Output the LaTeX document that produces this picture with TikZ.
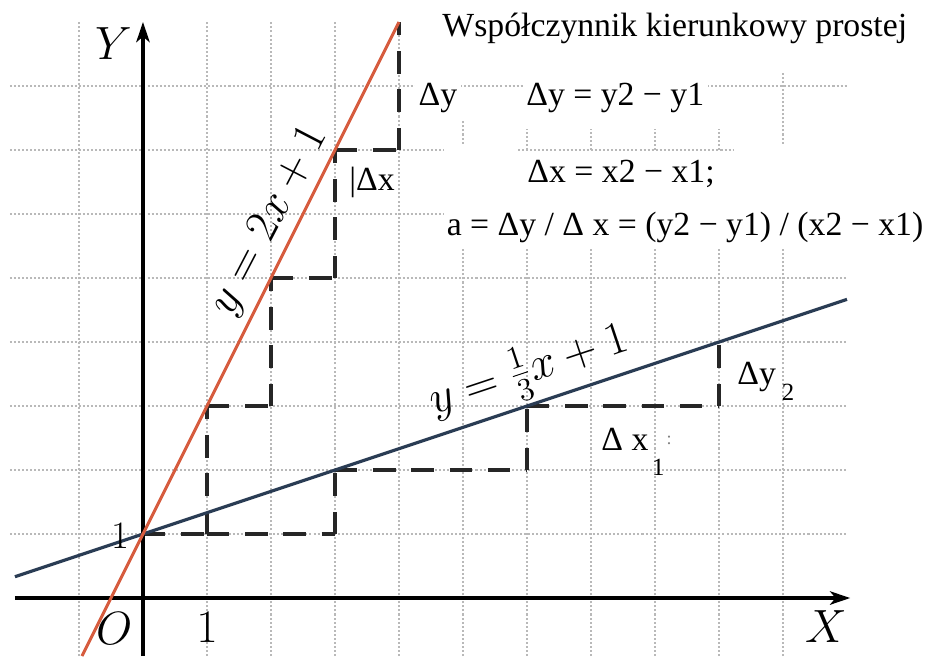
\documentclass[tikz,border=0pt]{standalone}
\usepackage{fontspec}
\newfontfamily\tnr{Liberation Serif}
\usetikzlibrary{arrows.meta}
\definecolor{redln}{RGB}{214,92,62}
\definecolor{blueln}{RGB}{42,60,84}
\begin{document}
\begin{tikzpicture}[x=1cm,y=1cm,
  gridline/.style={gray!55, line width=0.8pt, dash pattern=on 0.9pt off 0.9pt},
  stair/.style={black!85, line width=1.4pt, dash pattern=on 10pt off 7pt},
  axisln/.style={black, line width=1.4pt, -{Stealth[length=9pt,width=6pt,inset=2.5pt]}},
  redstyle/.style={redln, line width=1.3pt},
  bluestyle/.style={blueln, line width=1.4pt},
  txt/.style={font=\tnr\fontsize{15}{18}\selectfont, inner sep=1.5pt, anchor=base},
  subtxt/.style={font=\tnr\fontsize{11}{13}\selectfont, inner sep=0.5pt, anchor=base},
  mathlbl/.style={font=\fontsize{20}{24}\selectfont, inner sep=0pt, anchor=base},
]
\useasboundingbox (-2.234,-0.906) rectangle (12.297,9.344);
% grid
\foreach \x in {-1,1,2,...,10} \draw[gridline] (\x,-0.906) -- (\x,9.0);
\foreach \y in {1,...,8} \draw[gridline] (-2.08,\y) -- (11,\y);
% white area behind the text block
\fill[white] (4.7,5.47) rectangle (12.3,9.344);
% visible grid fragments in the text block
\draw[gridline] (4.7,8) -- (11,8);
\draw[gridline] (10,7.1) -- (10,8.2);
\draw[gridline] (5.86,7) -- (9.22,7);
\foreach \x in {6,7,8,9} \draw[gridline] (\x,7) -- (\x,7.33);
\draw[gridline] (5,7.1) -- (5,7.45);
% staircase for y = 2x + 1
\draw[stair] (0,1) -- (1,1);
\draw[stair] (1,1) -- (1,3);
\draw[stair] (1,3) -- (2,3);
\draw[stair] (2,3) -- (2,5);
\draw[stair] (2,5) -- (3,5);
\draw[stair] (3,5) -- (3,7);
\draw[stair] (3,7) -- (4,7);
\draw[stair] (4,7) -- (4,9);
% staircase for y = x/3 + 1
\draw[stair] (1,1) -- (3,1);
\draw[stair] (3,1) -- (3,2);
\draw[stair] (3,2) -- (6,2);
\draw[stair] (6,2) -- (6,3);
\draw[stair] (6,3) -- (9,3);
\draw[stair] (9,3) -- (9,4);
% axes
\coordinate (xs) at (-2.0,0);
\coordinate (xe) at (11.05,0);
\coordinate (ys) at (0,-0.906);
\coordinate (ye) at (0,9.0);
\draw[axisln] (xs) -- (xe);
\draw[axisln] (ys) -- (ye);
% lines
\coordinate (ra) at (-0.953,-0.906);
\coordinate (rb) at (4,9);
\coordinate (ba) at (-2,0.3333);
\coordinate (bb) at (11,4.6667);
\draw[bluestyle] (ba) -- (bb);
\draw[redstyle] (ra) -- (rb);
% line labels
\node[mathlbl, rotate=62.5] (lred) at (2.13,5.81) {$y=2x+1$};
\node[mathlbl, rotate=18.43] (lblue) at (6.09,3.37) {$y={\textstyle\frac{1}{3}}x+1$};
% axis labels
\node[mathlbl, font=\fontsize{22}{26}\selectfont] (Ylbl) at (-0.46,8.41) {$Y$};
\node[mathlbl] (Xlbl) at (10.67,-0.69) {$X$};
\node[mathlbl] (Olbl) at (-0.45,-0.73) {$O$};
\node[mathlbl] (onex) at (1,-0.70) {$1$};
\node[mathlbl, font=\fontsize{18}{22}\selectfont] (oney) at (-0.36,0.78) {$1$};
% texts
\node[txt] (title) at (8.31,8.77) {Współczynnik kierunkowy prostej};
\node[txt, fill=white] (dyeq) at (7.38,7.70) {Δy = y2 − y1};
\node[txt, fill=white] (dy) at (4.61,7.70) {Δy};
\node[txt] (dxeq) at (7.47,6.50) {Δx = x2 − x1;};
\node[txt] (aeq) at (8.47,5.67) {a = Δy / Δ x = (y2 − y1) / (x2 − x1)};
\node[txt] (dx) at (3.58,6.37) {|Δx};
\node[txt] (dy2) at (9.59,3.33) {Δy};
\node[subtxt] (dy2s) at (10.08,3.09) {2};
\node[txt] (dx1) at (7.53,2.31) {Δ x};
\node[subtxt] (dx1s) at (8.05,1.92) {1};
\node[subtxt, font=\tnr\fontsize{8}{9}\selectfont, gray] (dx1c) at (8.22,2.40) {:};
\end{tikzpicture}
\end{document}
